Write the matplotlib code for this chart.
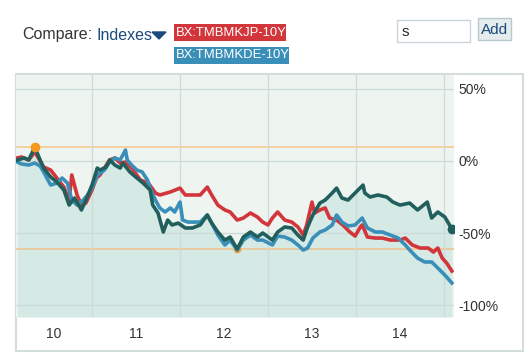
import matplotlib
matplotlib.use("Agg")
from matplotlib import pyplot as plt
from matplotlib.patches import Rectangle, Polygon

plt.rcParams['font.family'] = ['Liberation Sans', 'DejaVu Sans']

# main index (dark teal), % change
main_t = [2010.15, 2010.23, 2010.28, 2010.35, 2010.40, 2010.45, 2010.53, 2010.60, 2010.68, 2010.74,
          2010.80, 2010.88, 2010.93, 2011.00, 2011.06, 2011.09, 2011.16, 2011.20, 2011.26, 2011.32,
          2011.35, 2011.43, 2011.51, 2011.58, 2011.66, 2011.69, 2011.75, 2011.81, 2011.86, 2011.91,
          2011.98, 2012.06, 2012.14, 2012.23, 2012.31, 2012.36, 2012.43, 2012.51, 2012.57, 2012.65,
          2012.72, 2012.80, 2012.88, 2012.94, 2013.05, 2013.11, 2013.19, 2013.27, 2013.34, 2013.40,
          2013.45, 2013.51, 2013.59, 2013.65, 2013.73, 2013.78, 2013.84, 2013.91, 2013.99, 2014.08,
          2014.10, 2014.16, 2014.25, 2014.35, 2014.42, 2014.50, 2014.61, 2014.70, 2014.81, 2014.86,
          2014.93, 2015.01, 2015.09]
main_v = [0.7, 2.1, 0.7, 9.7, 2.1, -4.9, -11.1, -14.6, -20.1, -30.6,
          -25.7, -34.0, -27.1, -16.7, -4.9, -6.3, -4.2, 0.7, -2.8, -4.9,
          -1.4, -7.6, -11.8, -15.3, -20.1, -30.6, -36.1, -49.3, -41.0, -44.4,
          -43.1, -46.5, -46.5, -44.4, -37.5, -43.1, -49.3, -54.9, -52.8, -61.1,
          -52.8, -49.3, -52.8, -50.0, -54.9, -49.3, -45.8, -46.5, -51.4, -54.9,
          -45.8, -37.5, -29.2, -27.1, -22.2, -18.8, -25.7, -27.1, -22.2, -16.7,
          -22.2, -25.0, -23.6, -25.0, -28.5, -30.6, -29.2, -34.0, -28.5, -39.6,
          -35.4, -38.9, -47.2]

# BX:TMBMKJP-10Y (red)
jp_t = [2010.15, 2010.20, 2010.28, 2010.35, 2010.45, 2010.53, 2010.60, 2010.68, 2010.74, 2010.77,
        2010.83, 2010.88, 2010.93, 2011.00, 2011.05, 2011.09, 2011.20, 2011.26, 2011.32, 2011.38,
        2011.45, 2011.55, 2011.64, 2011.72, 2011.77, 2011.89, 2012.00, 2012.06, 2012.15, 2012.23,
        2012.31, 2012.36, 2012.43, 2012.51, 2012.57, 2012.65, 2012.72, 2012.80, 2012.88, 2012.94,
        2013.00, 2013.05, 2013.11, 2013.19, 2013.27, 2013.34, 2013.40, 2013.44, 2013.50, 2013.53,
        2013.59, 2013.65, 2013.70, 2013.78, 2013.85, 2013.93, 2013.99, 2014.05, 2014.07, 2014.13,
        2014.22, 2014.30, 2014.39, 2014.50, 2014.56, 2014.64, 2014.73, 2014.82, 2014.88, 2014.93,
        2014.98, 2015.03, 2015.09]
jp_v = [2.1, 2.8, 0.7, 6.3, -4.2, -6.3, -11.8, -18.1, -27.1, -9.7,
        -23.6, -30.6, -29.2, -20.1, -11.8, -9.7, 0.7, 2.1, -1.4, -0.7,
        -4.9, -13.2, -15.3, -22.2, -23.6, -21.5, -18.8, -23.6, -23.6, -23.6,
        -18.1, -23.6, -30.6, -34.0, -35.4, -41.0, -39.6, -36.1, -38.9, -42.4,
        -44.4, -39.6, -35.4, -41.0, -42.4, -45.8, -51.4, -44.4, -28.5, -36.1,
        -34.0, -32.6, -39.6, -41.0, -44.4, -49.3, -52.1, -45.8, -44.4, -52.8,
        -53.5, -53.5, -54.9, -54.9, -53.5, -58.3, -60.4, -60.4, -63.2, -60.4,
        -67.4, -70.8, -76.4]

# BX:TMBMKDE-10Y (blue)
de_t = [2010.15, 2010.20, 2010.28, 2010.35, 2010.41, 2010.45, 2010.53, 2010.60, 2010.66, 2010.72,
        2010.77, 2010.83, 2010.90, 2010.95, 2011.00, 2011.06, 2011.14, 2011.20, 2011.26, 2011.32,
        2011.38, 2011.40, 2011.45, 2011.51, 2011.57, 2011.63, 2011.66, 2011.72, 2011.77, 2011.83,
        2011.89, 2011.94, 2012.00, 2012.03, 2012.09, 2012.15, 2012.23, 2012.31, 2012.36, 2012.43,
        2012.51, 2012.57, 2012.65, 2012.72, 2012.80, 2012.88, 2012.94, 2013.05, 2013.11, 2013.19,
        2013.27, 2013.34, 2013.40, 2013.45, 2013.51, 2013.59, 2013.65, 2013.73, 2013.78, 2013.84,
        2013.91, 2013.99, 2014.07, 2014.13, 2014.22, 2014.30, 2014.39, 2014.48, 2014.56, 2014.61,
        2014.70, 2014.78, 2014.86, 2014.93, 2015.01, 2015.09]
de_v = [-0.7, -2.1, -2.8, -1.4, -3.5, -7.6, -16.7, -15.3, -11.8, -15.3,
        -27.1, -30.6, -27.1, -23.6, -18.8, -9.7, -6.3, -0.7, 2.1, 0.7,
        7.6, 0.7, -2.8, -6.3, -7.6, -13.2, -18.8, -27.1, -32.6, -35.4,
        -32.6, -35.4, -28.5, -41.0, -42.4, -42.4, -42.4, -37.5, -43.1, -51.4,
        -58.3, -54.9, -61.8, -54.9, -51.4, -54.9, -54.9, -58.3, -52.1, -52.8,
        -54.9, -58.3, -61.8, -60.4, -53.5, -49.3, -47.9, -44.4, -37.5, -42.4,
        -45.1, -44.4, -39.6, -46.5, -49.3, -49.3, -51.4, -53.5, -58.3, -61.8,
        -67.4, -70.1, -70.1, -74.3, -79.2, -84.7]

years = [2011, 2012, 2013, 2014, 2015]
year_labels = ["10", "11", "12", "13", "14"]
y_ticks = [50, 0, -50, -100]

W, H = 525, 353
fig = plt.figure(figsize=(W / 100, H / 100), dpi=100)


def fx(px):
    return px / W


def fy(py):
    return 1 - py / H


# outer frame
fig.patches.append(Rectangle((fx(16), fy(351)), fx(507), 277 / H, transform=fig.transFigure,
                             facecolor="white", edgecolor="#d3dedc", lw=1.5, zorder=-5))

ax = fig.add_axes([fx(16), fy(317), fx(438), 242 / H])
ax.set_zorder(1)
xmin, xmax = 2010.136, 2015.114
ymin, ymax = -108.3, 59.7
ax.set_xlim(xmin, xmax)
ax.set_ylim(ymin, ymax)
ax.set_facecolor("#eef5f1")
for s in ax.spines.values():
    s.set_visible(False)

# grid
ax.set_xticks(years)
ax.set_xticks([(xmin + 2011) / 2] + [y + 0.5 for y in years[:-1]], minor=True)
ax.set_xticklabels([])
ax.set_xticklabels(year_labels, minor=True)
ax.tick_params(axis="x", which="both", length=0, labelsize=10, colors="#333333", pad=7)
ax.set_yticks(y_ticks)
ax.set_yticklabels([f"{v}%" for v in y_ticks])
ax.yaxis.tick_right()
ax.tick_params(axis="y", length=0, labelsize=10, colors="#333333", pad=3)
ax.grid(True, which="major", color="#cddcd8", lw=1.0, zorder=1)

# fill under the main series
ax.fill_between(main_t, main_v, ymin, color="#d5e9e5", zorder=1.5, lw=0)
ax.set_axisbelow(False)

# max / min lines
hi, lo = max(main_v), min(main_v)
ax.axhline(hi, color="#f6c993", lw=1.2, zorder=2)
ax.axhline(lo, color="#ecc594", lw=1.2, zorder=2)

ax.plot(jp_t, jp_v, color="#d2363b", lw=2.6, zorder=3)
ax.plot(de_t, de_v, color="#3a8fb9", lw=2.6, zorder=3)
ax.plot(main_t, main_v, color="#215f5d", lw=2.6, zorder=4)

i_hi = main_v.index(hi)
i_lo = main_v.index(lo)
ax.plot(main_t[i_lo], lo, "o", color="#f0a030", ms=4.5, zorder=2.5)
ax.plot(main_t[i_hi], hi, "o", color="#f39a1e", ms=6, zorder=5)
ax.plot(main_t[-1], main_v[-1], "o", color="#215f5d", ms=6, zorder=5)

# header
fig.text(fx(22), fy(35), "Compare:", fontsize=11.5, color="#333333", va="center")
fig.text(fx(97), fy(35), "Indexes", fontsize=11.5, color="#1b4a7c", va="center")
fig.patches.append(Polygon([(fx(152), fy(32)), (fx(166), fy(32)), (fx(159), fy(39))],
                           closed=True, transform=fig.transFigure, color="#1b4a7c"))

fig.patches.append(Rectangle((fx(174), fy(41)), fx(112), 17 / H, transform=fig.transFigure,
                             facecolor="#d2363b", edgecolor="none"))
fig.text(fx(176), fy(32.5), "BX:TMBMKJP-10Y", fontsize=9.4, color="white", va="center")
fig.patches.append(Rectangle((fx(174), fy(64)), fx(115), 17 / H, transform=fig.transFigure,
                             facecolor="#3a8fb9", edgecolor="none"))
fig.text(fx(176), fy(55.5), "BX:TMBMKDE-10Y", fontsize=9.4, color="white", va="center")

fig.patches.append(Rectangle((fx(397), fy(42)), fx(73), 22 / H, transform=fig.transFigure,
                             facecolor="white", edgecolor="#c9d5d8", lw=1))
fig.text(fx(402), fy(32), "s", fontsize=11, color="#222222", va="center")
fig.patches.append(Rectangle((fx(478), fy(40)), fx(33), 22 / H, transform=fig.transFigure,
                             facecolor="#e4ecee", edgecolor="#b9c8cc", lw=1))
fig.text(fx(494.5), fy(30), "Add", fontsize=11, color="#1b4a7c", va="center", ha="center")

fig.savefig("out.png", dpi=100)
